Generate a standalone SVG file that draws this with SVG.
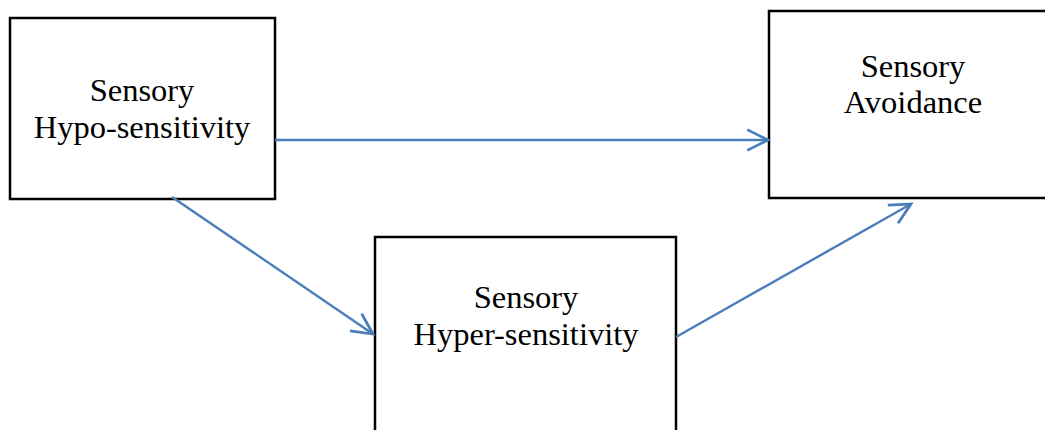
<svg xmlns="http://www.w3.org/2000/svg" width="1045" height="430" viewBox="0 0 1045 430">
<style>
.box{fill:#fff;stroke:#000;stroke-width:2.5}
.lbl{font-family:"Liberation Serif","Times New Roman",serif;font-size:32.5px;fill:#000;text-anchor:middle}
.con{stroke:#4a7ebb;stroke-width:2.4;fill:none}
</style>
<defs>
<marker id="arr" markerUnits="userSpaceOnUse" markerWidth="30" markerHeight="30" viewBox="-22 -12 26 24" refX="0" refY="0" orient="auto">
<path d="M-18,-9 L0,0 L-18,9" fill="none" stroke="#4a7ebb" stroke-width="2.4"/>
</marker>
</defs>
<rect width="1045" height="430" fill="#fff"/>
<g id="node-hypo">
<rect class="box" x="10" y="18" width="265" height="181"/>
<text class="lbl" x="142" y="101">Sensory</text>
<text class="lbl" x="142" y="138">Hypo-sensitivity</text>
</g>
<g id="node-avoid">
<rect class="box" x="769" y="11" width="300" height="187"/>
<text class="lbl" x="913" y="77">Sensory</text>
<text class="lbl" x="913" y="113">Avoidance</text>
</g>
<g id="node-hyper">
<rect class="box" x="375" y="237" width="301" height="220"/>
<text class="lbl" x="526" y="308">Sensory</text>
<text class="lbl" x="526" y="345">Hyper-sensitivity</text>
</g>
<g id="connectors">
<line class="con" x1="275" y1="140" x2="768" y2="140" marker-end="url(#arr)"/>
<line class="con" x1="172" y1="197" x2="373" y2="334" marker-end="url(#arr)"/>
<line class="con" x1="676" y1="337" x2="911" y2="204" marker-end="url(#arr)"/>
</g>
</svg>
